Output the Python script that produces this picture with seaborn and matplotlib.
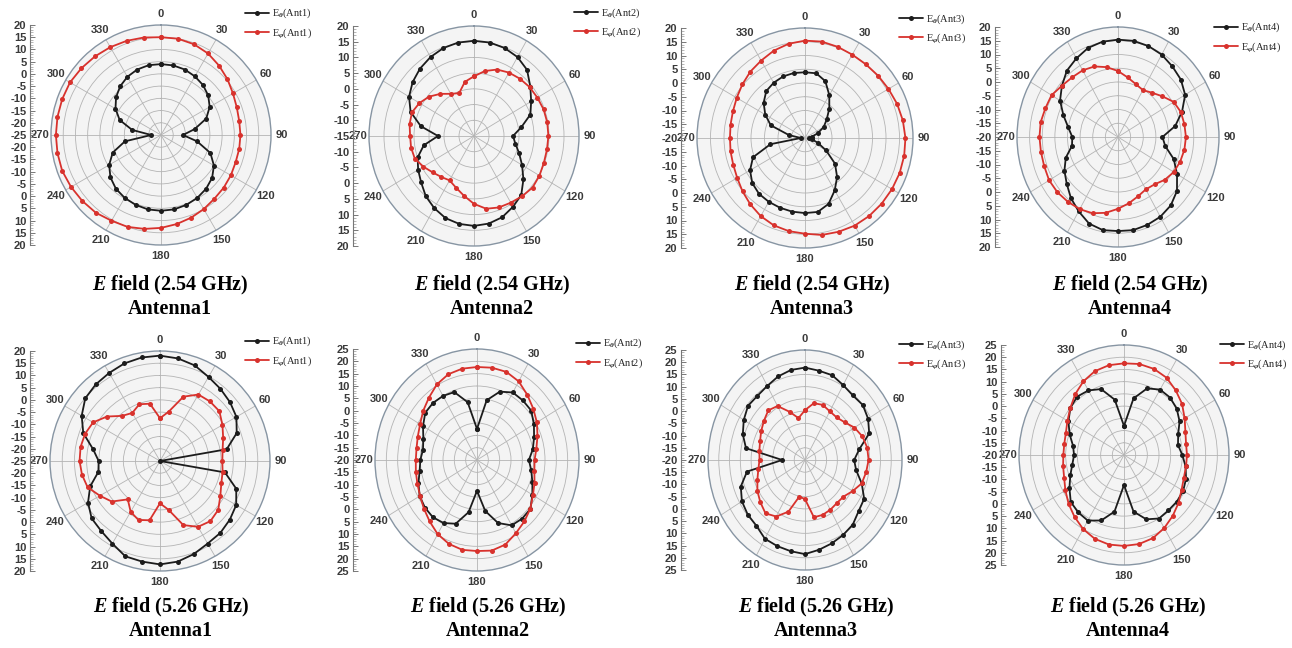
import numpy as np
import pandas as pd
import matplotlib
matplotlib.use("Agg")
import matplotlib.pyplot as plt
from matplotlib.ticker import MultipleLocator, FixedLocator, FixedFormatter
from matplotlib.lines import Line2D
import seaborn as sns

# ---------------------------------------------------------------
# Measured radiation patterns (dB), sampled every 10 degrees
# ---------------------------------------------------------------
angles_deg = list(range(0, 360, 10))

# 2.54 GHz
e_theta_ant1_254 = [4, 3.9, 3.5, 2.7, 1.7, 0.2, -2, -5.3, -11, -16, -10, -3.5, 0, 2.3, 3.7, 4.7, 5.4, 5.9,
                    6, 5.9, 5.4, 4.7, 3.7, 2, -0.5, -4, -10, -21, -13, -7, -3.5, -1, 1, 2.5, 3.5, 4]
e_phi_ant1_254 = [15, 15, 14.5, 13.5, 12, 10.5, 9, 8, 7.5, 7.5, 7.5, 7.5, 8, 8.5, 9, 10, 11, 12,
                  13, 14, 15, 15.5, 16.5, 17, 17.5, 18, 18, 18, 18, 18, 18, 17.5, 17, 16.5, 16, 15.5]

e_theta_ant2_254 = [15.3, 15.2, 14.8, 14, 12.5, 9.5, 7, 5, 1, -2, -1, 1, 3.5, 6.5, 9.5, 11, 12.5, 13.3,
                    13.6, 13.4, 12.8, 11.5, 10, 8, 6.5, 5, 2, -3, 3, 7.5, 10, 11.7, 13, 14, 14.8, 15.2]
e_phi_ant2_254 = [4, 6, 7.5, 8.3, 8.8, 9.2, 9.4, 9.7, 9.8, 9.8, 9.7, 9.8, 10.2, 10.5, 10, 9.5, 9.2, 8.5,
                  6.6, 4.3, 2.5, 1.3, 2, 3, 4.5, 6, 6.3, 6.3, 6.8, 7, 6, 4.5, 2.5, 0.5, -0.5, 2.5]

e_theta_ant3_254 = [3.9, 3.9, 2, -2, -6, -9.5, -12, -15, -17.5, -18.5, -17.5, -15, -11, -5.5, -1.5, 2, 5.5, 7.3,
                    7.3, 7.2, 7, 6.8, 6.5, 5.5, 3.5, 0.5, -7, -18.5, -14, -6.5, -3, 0, 2.3, 3.2, 3.8, 4]
e_phi_ant3_254 = [15.4, 15.6, 15.3, 15, 15, 15.3, 15.7, 16.3, 16.8, 17.2, 17.3, 17.3, 17.2, 17.1, 17, 16.8, 16.3, 15.8,
                  14.8, 14.4, 13.8, 12.8, 11.5, 10.2, 9, 8.3, 8, 7.8, 8, 8.4, 9.2, 10.3, 11.5, 12.5, 13.8, 14.8]

e_theta_ant4_254 = [15.4, 15.5, 15.2, 14.6, 13.5, 12.5, 10.7, 7, 3, -2.4, -1, 3.5, 7, 10.5, 12.5, 13.5, 14, 14.4,
                    14.2, 14.4, 13.5, 11.2, 9, 6.5, 4.5, 2, -1.5, -1.9, 0, 3, 6.5, 9, 11.5, 13, 14.5, 15.2]
e_phi_ant4_254 = [4, 2, 0.5, -0.3, 1, 3, 5.5, 6.5, 6.7, 6.9, 6.7, 6.2, 5.5, 4.2, 2.5, 2, 3, 4.5,
                  6.1, 8, 9.5, 10.3, 10.8, 11.3, 11.5, 11.1, 11, 11.1, 11.1, 10.6, 10.4, 9, 8.3, 8, 7.3, 5.8]

# 5.26 GHz
e_theta_ant1_526 = [18.1, 17.6, 16.6, 14.7, 13.5, 12.4, 11.1, 8.4, 2.7, -25, 2, 8.2, 11, 12.3, 13.4, 14, 15.5, 16.8,
                    17.3, 16.8, 16.5, 14, 12.4, 11.5, 9, 5.4, 0.6, 0.1, 2.8, 8.4, 12, 14.9, 15.9, 16.6, 17.5, 18]
e_phi_ant1_526 = [-7.5, -4.5, 3, 6.4, 6.8, 6.7, 4.5, 2.5, 1, 0.5, 1, 1.7, 3.5, 6.1, 7.1, 6.1, 2.9, -4.7,
                  -7.7, -0.4, 0.7, -1, -4.5, 0.8, 3.4, 6.5, 7.4, 7.9, 8, 7.6, 6.6, 3.3, -0.9, -2.3, -0.3, -1.2]

e_theta_ant2_526 = [-7.4, 4.6, 9.5, 11.6, 11.5, 11.2, 9, 6.8, 5, 2.9, 4.3, 6, 8.2, 10.8, 11, 10.6, 7.2, 1,
                    -7.5, 1.5, 7.5, 9.5, 10.3, 10, 9.2, 7.5, 5.7, 5, 4.2, 5.2, 7.5, 9.8, 10.2, 10, 9.3, 3.8]
e_phi_ant2_526 = [17.7, 18, 18, 16.8, 14.5, 12.4, 10.5, 8.4, 6.6, 5.4, 5.7, 7, 8.5, 10.7, 12.5, 14.3, 16.5, 17.3,
                  16.9, 17, 16.2, 14.7, 12.5, 10.6, 9, 8, 7.4, 7, 7.1, 7.8, 9, 11, 13, 15.4, 17, 17.6]

e_theta_ant3_526 = [17.8, 17.1, 16.9, 15.4, 14.5, 15, 13.8, 11.7, 5.6, 2.8, 4.1, 8, 11.7, 12.5, 14.5, 15.4, 16.3, 17.3,
                    18.5, 17.9, 17.5, 17.2, 15.1, 14.7, 13.8, 11.7, 7.3, -9.4, 7.8, 10.7, 12.8, 14.5, 14.3, 15, 16.4, 17.4]
e_phi_ant3_526 = [0.4, 3.6, 4, 3, 2.8, 4, 6.5, 8.3, 9.3, 9.5, 8.8, 8, 5.5, 3.3, 3, 3.5, 3.9, 3.8,
                  -4, -4.8, 2.5, 6.7, 8.5, 7, 5.5, 3.5, 2, 1.1, 1.5, 2.2, 3.5, 4.9, 6.5, 5.5, 1, -2.6]

e_theta_ant4_526 = [-8.1, 3.5, 9, 10.9, 10.7, 9.5, 7.5, 4.7, 3.5, 5, 6.8, 8.3, 9.3, 9.6, 9.6, 10, 8, 3.5,
                    -7.7, 3.5, 8.5, 11, 10.6, 9.8, 7, 4.5, 2.5, 1.4, 2.2, 4.8, 7.5, 10, 11.2, 10.5, 8.7, 3]
e_phi_ant4_526 = [17.5, 17.8, 17.5, 16.5, 14.5, 12.5, 10, 8, 7, 7, 7, 7.3, 8.5, 10.5, 12.5, 14.5, 16.2, 17,
                  17.2, 17.2, 16.5, 15, 13, 11, 9, 7.3, 6.5, 6, 6, 6.5, 8, 10, 12.5, 14.8, 16.5, 17.3]

antenna_names = ["Ant1", "Ant2", "Ant3", "Ant4"]
frequencies = ["2.54 GHz", "5.26 GHz"]
theta_tick_labels = ["0", "30", "60", "90", "120", "150", "180", "210", "240", "270", "300", "330"]

# radial range (dB) of each panel: (centre value, outer value)
radial_ranges = [(-25, 20), (-15, 20), (-20, 20), (-20, 20),
                 (-25, 20), (-20, 25), (-20, 25), (-20, 25)]

series = [
    (e_theta_ant1_254, e_phi_ant1_254), (e_theta_ant2_254, e_phi_ant2_254),
    (e_theta_ant3_254, e_phi_ant3_254), (e_theta_ant4_254, e_phi_ant4_254),
    (e_theta_ant1_526, e_phi_ant1_526), (e_theta_ant2_526, e_phi_ant2_526),
    (e_theta_ant3_526, e_phi_ant3_526), (e_theta_ant4_526, e_phi_ant4_526),
]

# ---------------------------------------------------------------
# Layout in pixels: polar centre, radii, dB-scale bar x, legend anchor, caption x
# ---------------------------------------------------------------
W, H = 1292, 648
layout = [
    dict(cx=161, cy=135, rx=110, ry=110, bar_x=30, leg=(245, 7), cap_x=170, cap_y=(285, 309)),
    dict(cx=474, cy=136, rx=105, ry=110, bar_x=353, leg=(574, 6), cap_x=492, cap_y=(285, 309)),
    dict(cx=805, cy=138, rx=108, ry=110, bar_x=681, leg=(899, 12), cap_x=812, cap_y=(285, 309)),
    dict(cx=1118, cy=137, rx=101, ry=110, bar_x=995, leg=(1214, 21), cap_x=1130, cap_y=(285, 309)),
    dict(cx=160, cy=461, rx=110, ry=110, bar_x=30, leg=(245, 335), cap_x=171, cap_y=(607, 631)),
    dict(cx=477, cy=460, rx=102, ry=111, bar_x=353, leg=(576, 337), cap_x=488, cap_y=(607, 631)),
    dict(cx=805, cy=460, rx=97, ry=110, bar_x=681, leg=(899, 338), cap_x=816, cap_y=(607, 631)),
    dict(cx=1124, cy=455, rx=105, ry=110, bar_x=1001, leg=(1220, 338), cap_x=1128, cap_y=(607, 631)),
]

BLACK = "#1c1c1c"
RED = "#d8322d"
GRID = "#b4b4b4"
TEXT = "#3a3a3a"

sns.set_theme(style="white")
plt.rcParams["font.family"] = ["Liberation Sans", "DejaVu Sans"]
plt.rcParams["mathtext.fontset"] = "custom"
plt.rcParams["mathtext.it"] = "Liberation Serif:italic:bold"
plt.rcParams["mathtext.rm"] = "Liberation Serif"

fig = plt.figure(figsize=(W / 100, H / 100), dpi=100)
fig.patch.set_facecolor("white")


def frac_rect(x0, y0, w, h):
    return [x0 / W, 1 - (y0 + h) / H, w / W, h / H]


theta_closed = np.deg2rad(angles_deg + [360])

for idx, (lay, (rmin, rmax), (e_th, e_ph)) in enumerate(zip(layout, radial_ranges, series)):
    ant = antenna_names[idx % 4]
    freq = frequencies[idx // 4]

    ax = fig.add_axes(frac_rect(lay["cx"] - lay["rx"], lay["cy"] - lay["ry"], 2 * lay["rx"], 2 * lay["ry"]),
                      projection="polar")
    ax.set_aspect("auto")
    ax.set_theta_zero_location("N")
    ax.set_theta_direction(-1)
    ax.set_facecolor("#f4f4f4")

    df = pd.DataFrame({
        "theta": np.concatenate([theta_closed, theta_closed]),
        "db": list(e_th) + [e_th[0]] + list(e_ph) + [e_ph[0]],
        "comp": ["theta"] * len(theta_closed) + ["phi"] * len(theta_closed),
    })
    sns.lineplot(data=df[df.comp == "theta"], x="theta", y="db", ax=ax, sort=False, estimator=None,
                 color=BLACK, linewidth=1.3, marker="o", markersize=3.6, markeredgewidth=0,
                 legend=False)
    sns.lineplot(data=df[df.comp == "phi"], x="theta", y="db", ax=ax, sort=False, estimator=None,
                 color=RED, linewidth=1.3, marker="o", markersize=3.6, markeredgewidth=0,
                 legend=False)
    ax.set_xlabel("")
    ax.set_ylabel("")

    ax.set_ylim(rmin, rmax)
    ax.set_yticks(np.arange(rmin + 5, rmax, 5))
    ax.set_yticklabels([])
    ax.set_thetagrids(np.arange(0, 360, 30), theta_tick_labels)
    ax.tick_params(axis="x", pad=-5, labelsize=8, labelcolor=TEXT)
    for lbl in ax.get_xticklabels():
        lbl.set_fontweight("bold")
    ax.grid(True, color=GRID, linewidth=0.6)
    ax.spines["polar"].set_color("#8795a3")
    ax.spines["polar"].set_linewidth(1.0)

    # dB scale bar on the left of the polar plot
    span = rmax - rmin
    bar = fig.add_axes(frac_rect(lay["bar_x"], lay["cy"] - lay["ry"], 1, 2 * lay["ry"]))
    bar.set_ylim(-span, span)
    bar.set_xlim(0, 1)
    for s in ["top", "right", "bottom"]:
        bar.spines[s].set_visible(False)
    bar.spines["left"].set_color("#777777")
    bar.spines["left"].set_linewidth(0.8)
    bar.patch.set_alpha(0)
    bar.set_xticks([])
    major = np.arange(-span, span + 1, 5)
    bar.yaxis.set_major_locator(FixedLocator(major))
    bar.yaxis.set_major_formatter(FixedFormatter([str(int(rmin + abs(t))) for t in major]))
    bar.yaxis.set_minor_locator(MultipleLocator(1))
    bar.tick_params(axis="y", which="major", direction="in", length=3.5, width=0.7, color="#777777",
                    labelsize=8, labelcolor=TEXT, pad=2.5, left=True)
    bar.tick_params(axis="y", which="minor", direction="in", length=1.8, width=0.5, color="#999999", left=True)
    for lbl in bar.get_yticklabels():
        lbl.set_fontweight("bold")

    # legend
    handles = [
        Line2D([], [], color=BLACK, linewidth=1.3, marker="o", markersize=3.6, markeredgewidth=0),
        Line2D([], [], color=RED, linewidth=1.3, marker="o", markersize=3.6, markeredgewidth=0),
    ]
    labels = [r"E$_{\theta}$(%s)" % ant, r"E$_{\varphi}$(%s)" % ant]
    lx, ly = lay["leg"]
    fig.legend(handles, labels, loc="upper left", bbox_to_anchor=(lx / W, 1 - ly / H),
               frameon=False, prop={"family": "Liberation Serif", "size": 7.5},
               handlelength=2.3, handletextpad=0.3, labelspacing=0.55, borderaxespad=0, borderpad=0)

    # caption
    fig.text(lay["cap_x"] / W, 1 - lay["cap_y"][0] / H, r"$\mathit{E}$ field (%s)" % freq,
             ha="center", va="center", fontsize=14.5, fontweight="bold", family="Liberation Serif",
             color="black")
    fig.text(lay["cap_x"] / W, 1 - lay["cap_y"][1] / H, "Antenna%s" % ant[-1],
             ha="center", va="center", fontsize=14.5, fontweight="bold", family="Liberation Serif",
             color="black")

fig.savefig("out.png", dpi=100, facecolor="white")
